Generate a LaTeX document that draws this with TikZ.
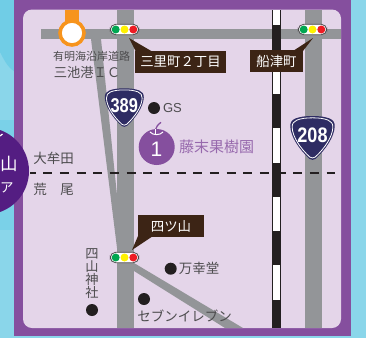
\documentclass[tikz,border=0pt]{standalone}
\usepackage{fontspec}
\usepackage{graphicx}
\setmainfont{Noto Sans CJK JP}
\newfontfamily\latinfont{Liberation Sans}
\newcommand{\jpsize}[1]{\fontsize{#1}{#1}\selectfont}
\definecolor{skya}{HTML}{8AD6EA}
\definecolor{skyb}{HTML}{70CDE6}
\definecolor{framepurple}{HTML}{854F9E}
\definecolor{innerpurple}{HTML}{E4D5E9}
\definecolor{roadgray}{HTML}{939598}
\definecolor{labelbrown}{HTML}{3C2415}
\definecolor{inkgray}{HTML}{4D4C4E}
\definecolor{inkblack}{HTML}{231F20}
\definecolor{shieldnavy}{HTML}{2E2C63}
\definecolor{deeppurple}{HTML}{541D82}
\definecolor{icorange}{HTML}{F7941D}
\definecolor{siggreen}{HTML}{00A651}
\definecolor{sigyellow}{HTML}{FFF200}
\definecolor{sigred}{HTML}{ED1C24}
\tikzset{
  x=1pt,y=-1pt,
  road/.style={fill=roadgray,draw=none},
  namelabel/.style={fill=labelbrown,text=white,inner sep=0pt,font=\jpsize{13.4}},
  maptext/.style={text=inkgray,inner sep=0pt,font=\jpsize{13.5}},
  spot/.style={circle,fill=inkblack,minimum size=12pt,inner sep=0pt},
  sigbody/.style={rounded corners=5.5pt,fill=white,draw=inkgray,line width=.8pt,minimum width=28.5pt,minimum height=10.5pt,inner sep=0pt},
  lamp/.style={circle,minimum size=8pt,inner sep=0pt},
  signalmark/.pic={
    \node[sigbody] (-body) at (0,0) {};
    \node[lamp,fill=siggreen] at (-8.8,0) {};
    \node[lamp,fill=sigyellow] at (0,0) {};
    \node[lamp,fill=sigred] at (8.8,0) {};
  },
  shieldmark/.pic={
    \def\shieldoutline{(0,0) .. controls (-6,0) and (-11,0.6) .. (-15,2.2)
      .. controls (-18,3.4) and (-19.6,5.6) .. (-19.5,9)
      .. controls (-19.2,18) and (-12,29) .. (-2.6,37.6)
      .. controls (-1,38.8) and (1,38.8) .. (2.6,37.6)
      .. controls (12,29) and (19.2,18) .. (19.5,9)
      .. controls (19.6,5.6) and (18,3.4) .. (15,2.2)
      .. controls (11,0.6) and (6,0) .. (0,0) -- cycle}
    \fill[shieldnavy] \shieldoutline;
    \begin{scope}[shift={(0,1.6)},scale=.915]
      \filldraw[fill=shieldnavy,draw=white,line width=.8pt] \shieldoutline;
    \end{scope}
  }
}
\begin{document}
\begin{tikzpicture}
\useasboundingbox (0,0) rectangle (366,338);
\fill[skya] (0,0) rectangle (366,338);
\fill[skyb] (0,0) -- (14,0) -- (14,71) .. controls (8,68) and (3,58) .. (0,52) -- cycle;
\fill[skyb!60!skya] (0,120) rectangle (14,230);
% frame
\fill[framepurple] (14,0) rectangle (351,335.7);
\fill[innerpurple,rounded corners=9pt] (23,9.5) rectangle (341,328);
% roads
\fill[road] (41,29) rectangle (341,39);
\fill[road] (117,9.5) rectangle (134,328);
\fill[road] (305,9.5) rectangle (322,328);
\fill[road] (91,39) -- (101,39) -- (117.5,200) -- (117.5,252) -- cycle;
\fill[road] (134,263) -- (243,328) -- (225,328) -- (134,271) -- cycle;
% railway
\fill[inkblack] (272,9.5) rectangle (281,328);
\foreach \a/\b in {9.5/25,60/94,128/163,197/231,265/300}
  \fill[white] (273,\a) rectangle (280,\b);
% boundary
\draw[inkblack,line width=1.5pt,dash pattern=on 9pt off 7.67pt,dash phase=3.5pt] (30,173) -- (335,173);
% interchange
\fill[icorange] (65,9.5) rectangle (79,25);
\node[circle,fill=white,draw=icorange,line width=3.6pt,minimum size=24pt,inner sep=0pt] (ic) at (72,33) {};
\node[maptext,font=\jpsize{11}] (road) at (91.5,56.7) {有明海沿岸道路};
\node[maptext,font=\jpsize{13.3}] (port) at (87,72) {三池港ＩＣ};
% callouts
\fill[labelbrown] (129,38) -- (136,52) -- (153,52) -- cycle;
\fill[labelbrown] (313,38) -- (293,51) -- (303,51) -- cycle;
\fill[labelbrown] (132,250) -- (138,236) -- (153,236) -- cycle;
\node[namelabel,minimum width=91pt,minimum height=21.5pt] (sanri) at (180.5,62) {三里町２丁目};
\node[namelabel,minimum width=53pt,minimum height=22pt] (funatsu) at (276.5,61) {船津町};
\node[namelabel,minimum width=66pt,minimum height=22pt] (yotsu) at (171,226) {四ツ山};
% signals
\pic (sigA) at (124.5,29.5) {signalmark};
\pic (sigB) at (312.5,29.5) {signalmark};
\pic (sigC) at (124.5,257.5) {signalmark};
% shields
\pic at (124.3,88.3) {shieldmark};
\node[text=white,inner sep=0pt] (r389) at (124.3,106) {\latinfont\fontsize{20}{20}\selectfont\bfseries\scalebox{.82}[1]{389}};
\pic[scale=1.14] at (312.5,116) {shieldmark};
\node[text=white,inner sep=0pt] (r208) at (312.5,135.5) {\latinfont\fontsize{21}{21}\selectfont\bfseries\scalebox{.86}[1]{208}};
% GS
\node[spot] (gsdot) at (154,108) {};
\node[maptext,font=\latinfont\fontsize{13}{13}\selectfont] (gs) at (172.5,108.5) {GS};
% orchard
\node[circle,fill=framepurple,minimum size=36pt,inner sep=0pt] (apple) at (156.7,147) {};
\draw[framepurple,line width=1.3pt] (155.3,130) .. controls (156,127) and (158,124.5) .. (161,122.3);
\draw[white,line width=1pt] (150,132) .. controls (153,135.5) and (160,135.5) .. (163,132);
\draw[white,line width=1.1pt] (155.4,129) -- (155.4,133.5);
\node[text=white,inner sep=0pt,font=\latinfont\fontsize{21}{21}\selectfont] (one) at (156.5,149.3) {1};
\node[inner sep=0pt,text=framepurple!85!white,font=\jpsize{15}] (farm) at (216.5,147) {藤末果樹園};
% area names
\node[maptext] (omuta) at (53.5,158) {大牟田};
\node[maptext] (arao) at (53.5,189) {荒　尾};
\node[maptext,font=\jpsize{13.2},align=center] (shrine) at (92,273.5) {四\\山\\神\\社};
\node[spot] (shrinedot) at (92,310) {};
\node[spot] (mandot) at (170.7,268.7) {};
\node[maptext] (man) at (199,268) {万幸堂};
\node[spot] (sevendot) at (144,299) {};
\node[maptext] (seven) at (184.5,315.5) {セブンイレブン};
% big round badge, cut by the page edge
\fill[deeppurple] (-14.5,171) circle (43.5);
\node[text=white,inner sep=0pt,font=\jpsize{17.5}] (yama) at (9,164) {山};
\node[text=white,inner sep=0pt,font=\jpsize{13.5}] (a) at (6.8,188) {ア};
\draw[white,line width=1.2pt] (0,136) -- (2.5,134);
\end{tikzpicture}
\end{document}
